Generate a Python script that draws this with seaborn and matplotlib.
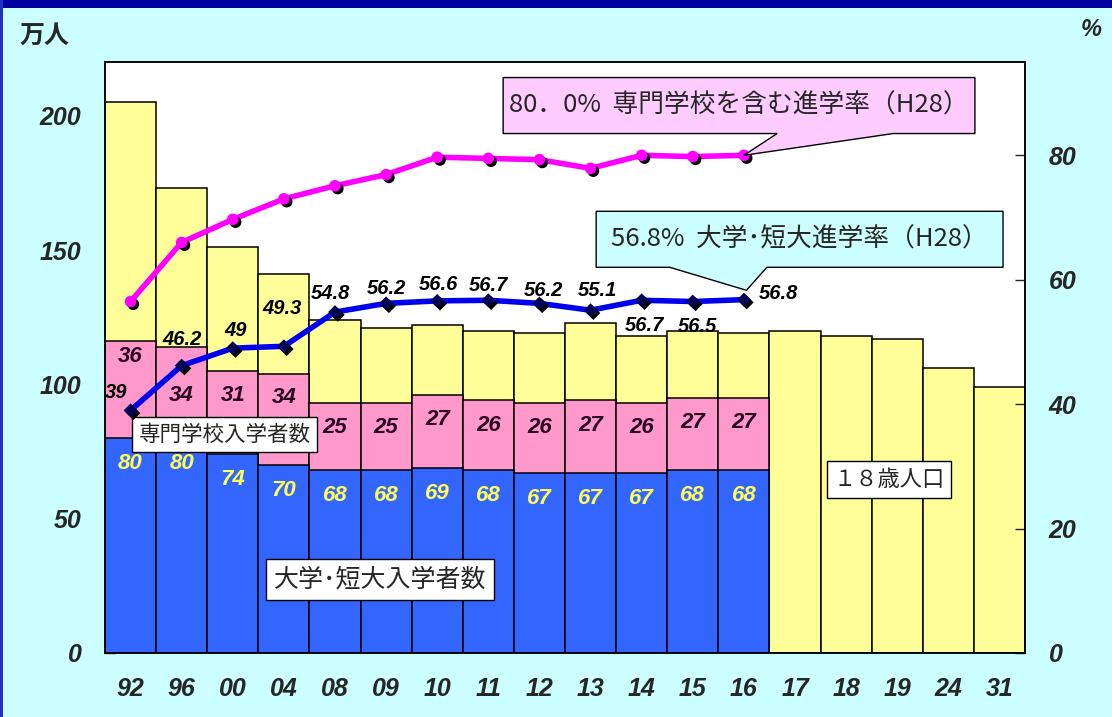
import numpy as np
import pandas as pd
import matplotlib
matplotlib.use("Agg")
import matplotlib.pyplot as plt
import matplotlib.patheffects as pe
from matplotlib.patches import Rectangle, Polygon
import seaborn as sns

# ---- data -------------------------------------------------------------
years = ["92", "96", "00", "04", "08", "09", "10", "11", "12",
         "13", "14", "15", "16", "17", "18", "19", "24", "31"]
population_18 = [205, 173, 151, 141, 124, 121, 122, 120, 119,
                 123, 118, 120, 119, 120, 118, 117, 106, 99]
univ_entrants = [80, 80, 74, 70, 68, 68, 69, 68, 67, 67, 67, 68, 68]
vocational_entrants = [36, 34, 31, 34, 25, 25, 27, 26, 26, 27, 26, 27, 27]
univ_rate = [39, 46.2, 49, 49.3, 54.8, 56.2, 56.6, 56.7, 56.2, 55.1, 56.7, 56.5, 56.8]
univ_rate_labels = ["39", "46.2", "49", "49.3", "54.8", "56.2", "56.6",
                    "56.7", "56.2", "55.1", "56.7", "56.5", "56.8"]
higher_ed_rate = [56.5, 66.0, 69.7, 73.0, 75.1, 76.9, 79.7, 79.5, 79.3, 77.9, 80.0, 79.8, 80.0]
left_ticks = [0, 50, 100, 150, 200]
right_ticks = [0, 20, 40, 60, 80]

# ---- colours ----------------------------------------------------------
BG = "#CCFFFF"
YELLOW = "#FFFF99"
PINK = "#FF99CC"
BLUE = "#3366FF"
MAGENTA = "#FF00FF"
LINE_BLUE = "#0000EE"
LABEL_YELLOW = "#FFFF55"

sns.set_style("white")
plt.rcParams["font.family"] = ["Liberation Sans", "Noto Sans CJK JP", "DejaVu Sans"]
JP = ["Noto Sans CJK JP", "DejaVu Sans"]

fig = plt.figure(figsize=(11.12, 7.17), dpi=100)
fig.patch.set_facecolor(BG)
ax = fig.add_axes([105 / 1112, 64 / 717, 920 / 1112, 591 / 717])
ax.set_facecolor("white")

n_enr = len(univ_entrants)
df_pop = pd.DataFrame({"year": years, "value": population_18})
df_enr = pd.DataFrame({
    "year": years[:n_enr],
    "univ": univ_entrants,
    "stack": np.add(univ_entrants, vocational_entrants),
})

bar_kw = dict(order=years, width=1.0, edgecolor="black", linewidth=1.1,
              saturation=1, ax=ax)
sns.barplot(data=df_pop, x="year", y="value", color=YELLOW, **bar_kw)
sns.barplot(data=df_enr, x="year", y="stack", color=PINK, **bar_kw)
sns.barplot(data=df_enr, x="year", y="univ", color=BLUE, **bar_kw)

ax.set_xlim(-0.5, len(years) - 0.5)
ax.set_ylim(0, 220)
ax.set_xlabel("")
ax.set_ylabel("")
ax.set_yticks(left_ticks)
ax.set_yticklabels([str(t) for t in left_ticks], fontsize=18,
                   fontstyle="italic", fontweight="bold")
ax.set_xticks(range(len(years)))
ax.set_xticklabels(years, fontsize=18, fontstyle="italic", fontweight="bold")
ax.tick_params(axis="y", direction="in", length=7, width=1, pad=17, left=True)
ax.tick_params(axis="x", length=0, pad=17)
for s in ax.spines.values():
    s.set_color("black")
    s.set_linewidth(1.1)

# values inside stacked bars
pink_offsets = [5.8, 18, 9.3, 9, 9.2, 9.2, 9.2, 9.2, 9.2, 9.2, 9.2, 9.2, 9.2]
for i, (u, v) in enumerate(zip(univ_entrants, vocational_entrants)):
    ax.text(i, u - 9.5, str(u), ha="center", va="center", color=LABEL_YELLOW,
            fontsize=16, fontstyle="italic", fontweight="bold", zorder=5)
    ax.text(i, u + v - pink_offsets[i], str(v), ha="center", va="center",
            color="#2a0022", fontsize=16, fontstyle="italic", fontweight="bold",
            zorder=5)

# ---- rate lines on the right axis -------------------------------------
ax2 = ax.twinx()
ax2.set_ylim(0, 95)
ax2.set_yticks(right_ticks)
ax2.set_yticklabels([str(t) for t in right_ticks], fontsize=18,
                    fontstyle="italic", fontweight="bold")
ax2.tick_params(axis="y", direction="in", length=7, width=1, pad=17, right=True)
for s in ax2.spines.values():
    s.set_color("black")
    s.set_linewidth(1.1)

xpos = np.arange(len(univ_rate))
shadow = [pe.SimplePatchShadow(offset=(2, -2), shadow_rgbFace="black", alpha=1.0),
          pe.Normal()]

sns.lineplot(x=xpos, y=higher_ed_rate, ax=ax2, color=MAGENTA, linewidth=4,
             sort=False, zorder=3)
sns.scatterplot(x=xpos, y=higher_ed_rate, ax=ax2, color=MAGENTA, s=70,
                marker="o", edgecolor="none", zorder=4, path_effects=shadow)

sns.lineplot(x=xpos, y=univ_rate, ax=ax2, color=LINE_BLUE, linewidth=4,
             sort=False, zorder=3)
sns.scatterplot(x=xpos, y=univ_rate, ax=ax2, color="#000055", s=50,
                marker="D", edgecolor="none", zorder=4, path_effects=shadow)
ax2.set_ylabel("")

label_offsets_px = [(-14, 18), (0, 26), (3, 18), (-2, 38), (-5, 19), (0, 15),
                    (1, 16), (0, 15), (4, 13), (7, 20), (3, -25), (5, -25), (35, 6)]
for i, (val, txt) in enumerate(zip(univ_rate, univ_rate_labels)):
    dx, dy = label_offsets_px[i]
    ax2.annotate(txt, (xpos[i], val), xytext=(dx * 0.72, dy * 0.72),
                 textcoords="offset points", ha="center", va="center",
                 fontsize=14.5, fontstyle="italic", fontweight="bold",
                 color="black", zorder=6)

# ---- callouts ---------------------------------------------------------
def callout(x0, x1, y0, y1, b0, b1, tip, face, text):
    verts = [(x0, y0), (b0, y0), tip, (b1, y0), (x1, y0), (x1, y1), (x0, y1)]
    ax2.add_patch(Polygon(verts, closed=True, facecolor=face, edgecolor="black",
                          linewidth=1.0, zorder=7, clip_on=False))
    ax2.text((x0 + x1) / 2, (y0 + y1) / 2, text, ha="center", va="center",
             fontsize=18.5, family=JP, zorder=8)

n_last = len(higher_ed_rate) - 1
callout(7.29, 16.52, 83.5, 92.5, 12.65, 14.92,
        (xpos[n_last], higher_ed_rate[n_last]), "#FFCCFF",
        "80．0%  専門学校を含む進学率（H28）")
callout(9.11, 17.07, 62.0, 71.0, 10.55, 12.45,
        (xpos[n_last] + 0.05, univ_rate[n_last] + 1.5), BG,
        "56.8%  大学･短大進学率（H28）")

box = dict(boxstyle="square,pad=0.3", facecolor="white", edgecolor="black",
           linewidth=1.0)
ax.text(1.84, 81.3, "専門学校入学者数", ha="center", va="center", fontsize=15.5,
        family=JP, bbox=box, zorder=9)
ax.text(4.88, 27.2, "大学･短大入学者数", ha="center", va="center", fontsize=18,
        family=JP, bbox=box, zorder=9)
ax.text(14.84, 64.6, "１８歳人口", ha="center", va="center", fontsize=16,
        family=JP, bbox=box, zorder=9)

# ---- axis unit captions and frame -------------------------------------
fig.text(45 / 1112, 1 - 36 / 717, "万人", ha="center", va="center",
         fontsize=18, family=JP, fontweight="bold")
fig.text(1091 / 1112, 1 - 30 / 717, "%", ha="center", va="center",
         fontsize=17, fontstyle="italic", fontweight="bold")
fig.add_artist(Rectangle((0, 1 - 8 / 717), 1, 8 / 717, transform=fig.transFigure,
                         facecolor="#0000A0", edgecolor="none"))
fig.add_artist(Rectangle((0, 0), 3 / 1112, 1, transform=fig.transFigure,
                         facecolor="#2030C0", edgecolor="none"))

fig.savefig("out.png", dpi=100, facecolor=fig.get_facecolor())
